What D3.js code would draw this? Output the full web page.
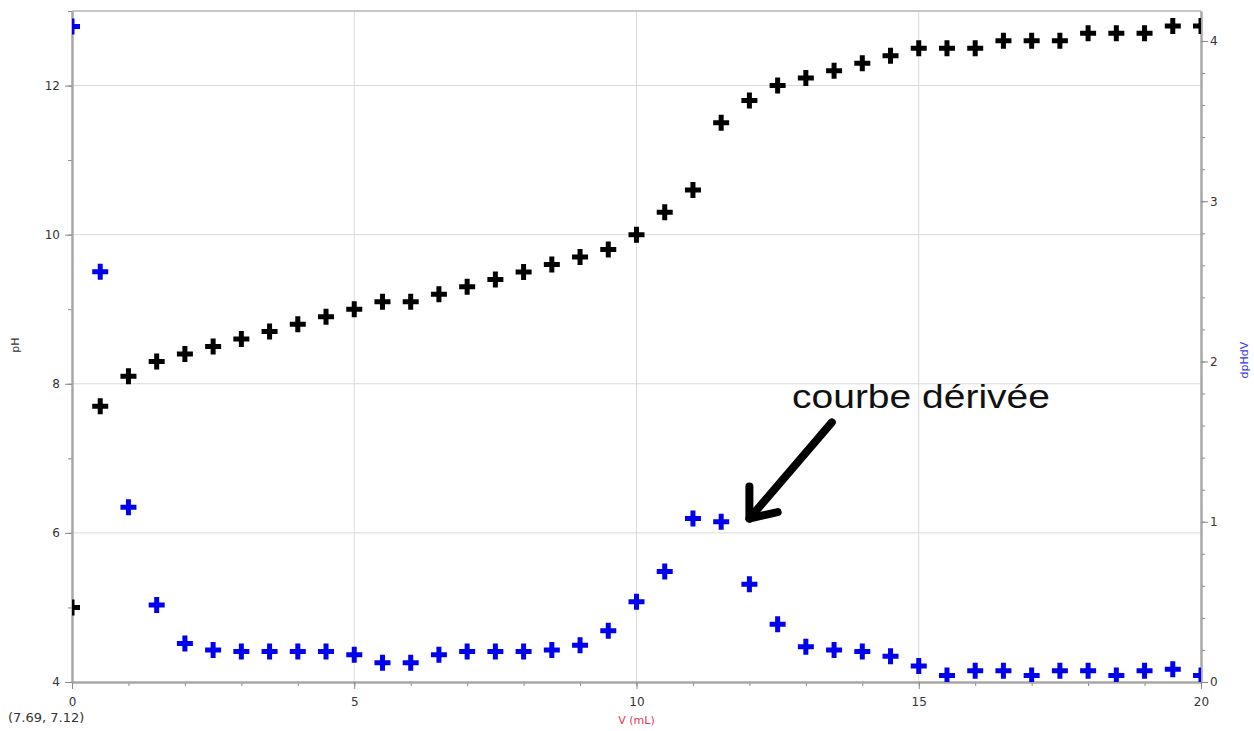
<!DOCTYPE html>
<html>
<head>
<meta charset="utf-8">
<script src="https://cdn.jsdelivr.net/npm/d3@7"></script>
<style>
  html, body { margin: 0; padding: 0; background: #fff; }
  svg { display: block; }
</style>
</head>
<body>
<svg id="chart" width="1254" height="731"></svg>
<script>
// ---- data ----
const volumes = [0,0.5,1,1.5,2,2.5,3,3.5,4,4.5,5,5.5,6,6.5,7,7.5,8,8.5,9,9.5,10,10.5,11,11.5,12,12.5,13,13.5,14,14.5,15,15.5,16,16.5,17,17.5,18,18.5,19,19.5,20];
const pHValues = [5.0,7.7,8.1,8.3,8.4,8.5,8.6,8.7,8.8,8.9,9.0,9.1,9.1,9.2,9.3,9.4,9.5,9.6,9.7,9.8,10.0,10.3,10.6,11.5,11.8,12.0,12.1,12.2,12.3,12.4,12.5,12.5,12.5,12.6,12.6,12.6,12.7,12.7,12.7,12.8,12.8];
const dpHdVValues = [4.09,2.56,1.09,0.48,0.24,0.20,0.19,0.19,0.19,0.19,0.17,0.12,0.12,0.17,0.19,0.19,0.19,0.20,0.23,0.32,0.50,0.69,1.02,1.00,0.61,0.36,0.22,0.20,0.19,0.16,0.10,0.04,0.07,0.07,0.04,0.07,0.07,0.04,0.07,0.08,0.04];
const xTickLabels = [0,5,10,15,20];
const pHTickLabels = [4,6,8,10,12];
const dTickLabels = [0,1,2,3,4];
const annotationText = "courbe dérivée";
const arrowTip = [12.0, 1.02];     // data coords (V, dpH/dV)
const arrowTail = [13.46, 1.62];
const arrowArm1 = [12.0, 1.22];
const arrowArm2 = [12.5, 1.06];

// ---- layout ----
const L = 72, R = 1201, T = 11, B = 682;
const svg = d3.select("#chart");

const x = d3.scaleLinear().domain([0, 20]).range([L, R]);
const yL = d3.scaleLinear().domain([4, 13]).range([B, T]);
const yR = d3.scaleLinear().domain([0, 4.187]).range([B, T]);

const font = "'DejaVu Sans', Verdana, sans-serif";
const axisColor = "#a8a8a8";
const gridColor = "#d9d9d9";
const textColor = "#333";

// grid
const grid = svg.append("g");
grid.selectAll("line.vx").data([5,10,15]).join("line")
  .attr("x1", d => x(d)).attr("x2", d => x(d)).attr("y1", T).attr("y2", B)
  .attr("stroke", gridColor).attr("stroke-width", 1);
grid.selectAll("line.hy").data([6,8,10,12]).join("line")
  .attr("x1", L).attr("x2", R).attr("y1", d => yL(d)).attr("y2", d => yL(d))
  .attr("stroke", gridColor).attr("stroke-width", 1);

// frame top
svg.append("line").attr("x1", L).attr("x2", R).attr("y1", T).attr("y2", T)
  .attr("stroke", "#c8c8c8").attr("stroke-width", 2);

// axes
function styleAxis(g) {
  g.select(".domain").attr("stroke", axisColor).attr("stroke-width", 2);
  g.selectAll(".tick line").attr("stroke", "#888").attr("stroke-width", 1);
  g.selectAll(".tick text").attr("fill", textColor).style("font-family", font).style("font-size", "12px");
}
// x axis minor
const gxm = svg.append("g").attr("transform", `translate(0,${B})`)
  .call(d3.axisBottom(x).tickValues(d3.range(0, 21, 1)).tickSize(4).tickFormat("").tickSizeOuter(0));
styleAxis(gxm);
const gx = svg.append("g").attr("transform", `translate(0,${B})`)
  .call(d3.axisBottom(x).tickValues(xTickLabels).tickSize(7).tickPadding(8).tickFormat(d3.format("d")).tickSizeOuter(0));
styleAxis(gx);

// left axis
const gym = svg.append("g").attr("transform", `translate(${L},0)`)
  .call(d3.axisLeft(yL).tickValues(d3.range(4, 13.01, 1)).tickSize(4).tickFormat("").tickSizeOuter(0));
styleAxis(gym);
const gy = svg.append("g").attr("transform", `translate(${L},0)`)
  .call(d3.axisLeft(yL).tickValues(pHTickLabels).tickSize(7).tickPadding(5).tickFormat(d3.format("d")).tickSizeOuter(0));
styleAxis(gy);

// right axis
const grm = svg.append("g").attr("transform", `translate(${R},0)`)
  .call(d3.axisRight(yR).tickValues(d3.range(0, 4.19, 0.2)).tickSize(4).tickFormat("").tickSizeOuter(0));
styleAxis(grm);
const gr = svg.append("g").attr("transform", `translate(${R},0)`)
  .call(d3.axisRight(yR).tickValues(dTickLabels).tickSize(7).tickPadding(2).tickFormat(d3.format("d")).tickSizeOuter(0));
styleAxis(gr);

// axis labels
svg.append("text").attr("x", x(10)).attr("y", 724).attr("text-anchor", "middle")
  .attr("fill", "#e8325a").style("font-family", font).style("font-size", "11px").text("V (mL)");
svg.append("text").attr("transform", "translate(19,345) rotate(-90)").attr("text-anchor", "middle")
  .attr("fill", textColor).style("font-family", font).style("font-size", "11px").text("pH");
svg.append("text").attr("transform", "translate(1248,360) rotate(-90)").attr("text-anchor", "middle")
  .attr("fill", "#3333dd").style("font-family", font).style("font-size", "11px").text("dpHdV");
svg.append("text").attr("x", 8).attr("y", 722)
  .attr("fill", textColor).style("font-family", font).style("font-size", "13px").text("(7.69, 7.12)");

// clip
svg.append("clipPath").attr("id", "plotclip").append("rect")
  .attr("x", L).attr("y", T).attr("width", R - L).attr("height", B - T);
const plot = svg.append("g").attr("clip-path", "url(#plotclip)");

function crossPath(cx, cy) {
  const a = 8;
  return `M${cx - a},${cy}H${cx + a}M${cx},${cy - a}V${cy + a}`;
}
const pHData = volumes.map((v, i) => ({ v, y: pHValues[i] }));
const dData = volumes.map((v, i) => ({ v, y: dpHdVValues[i] }));

plot.selectAll("path.d").data(dData).join("path")
  .attr("d", d => crossPath(x(d.v), yR(d.y)))
  .attr("stroke", "#0000ee").attr("stroke-width", 5).attr("fill", "none");
plot.selectAll("path.p").data(pHData).join("path")
  .attr("d", d => crossPath(x(d.v), yL(d.y)))
  .attr("stroke", "#000").attr("stroke-width", 5).attr("fill", "none");

// annotation
svg.append("text").attr("x", 792).attr("y", 408)
  .attr("textLength", 258).attr("lengthAdjust", "spacingAndGlyphs")
  .attr("fill", "#111").style("font-family", "'Liberation Sans', Arial, sans-serif").style("font-size", "33px")
  .text(annotationText);
const arrowLine = d3.line().x(d => x(d[0])).y(d => yR(d[1]));
svg.append("path").attr("d", arrowLine([arrowTail, arrowTip]))
  .attr("stroke", "#000").attr("stroke-width", 8).attr("stroke-linecap", "round").attr("fill", "none");
svg.append("path").attr("d", arrowLine([arrowArm1, arrowTip, arrowArm2]))
  .attr("stroke", "#000").attr("stroke-width", 8).attr("stroke-linecap", "round").attr("stroke-linejoin", "round").attr("fill", "none");
</script>
</body>
</html>
